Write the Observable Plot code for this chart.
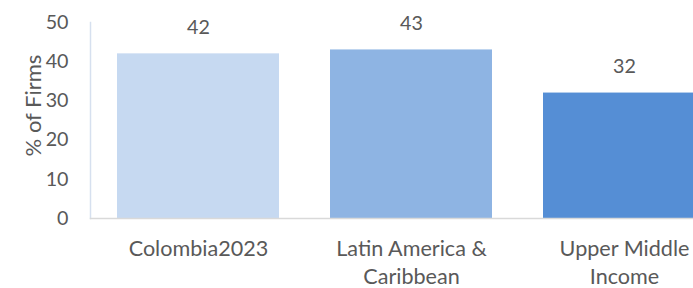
<!DOCTYPE html>
<html><head><meta charset="utf-8">
<script src="https://cdn.jsdelivr.net/npm/d3@7"></script>
<script src="https://cdn.jsdelivr.net/npm/@observablehq/plot@0.6"></script>
<style>
html,body{margin:0;padding:0;background:#fff;overflow:hidden;width:693px;height:288px;}
#chart{width:693px;height:288px;overflow:hidden;}
#chart svg{max-width:none !important;}
</style></head><body><div id="chart"></div>
<script>
const categories = ["Colombia2023", "Latin America & Caribbean", "Upper Middle Income"];
const categoryLabels = ["Colombia2023", "Latin America &\nCaribbean", "Upper Middle\nIncome"];
const values = [42, 43, 32];
const colors = ["#C6D9F1", "#8EB4E3", "#558ED5"];
const yTicks = [0, 10, 20, 30, 40, 50];
const yTitle = "% of Firms";

const data = categories.map((c, i) => ({category: c, value: values[i], label: categoryLabels[i]}));
const font = "Lato, 'Open Sans', sans-serif";
const ink = "#595959";

const chart = Plot.plot({
  width: 732, height: 288,
  marginLeft: 90, marginRight: 0, marginTop: 22, marginBottom: 70,
  style: {fontFamily: font, color: ink, background: "white", maxWidth: "none"},
  x: {domain: categories, paddingInner: 0.24, paddingOuter: 0.125, axis: null},
  y: {domain: [0, 50], axis: null},
  color: {domain: categories, range: colors},
  marks: [
    Plot.barY(data, {x: "category", y: "value", fill: "category"}),
    Plot.frame({anchor: "left", stroke: "#d6e0ef", strokeWidth: 1.5}),
    Plot.frame({anchor: "bottom", stroke: "#d9d9d9", strokeWidth: 1.5}),
    Plot.axisY({ticks: yTicks, tickSize: 0, tickPadding: 22, fontSize: 19.7, fill: ink, label: null}),
    Plot.text([yTitle], {frameAnchor: "left", textAnchor: "middle", lineAnchor: "middle", rotate: -90, dx: -57, dy: -15, fontSize: 22, fill: ink, text: d => d}),
    Plot.text(data, {x: "category", y: "value", text: d => String(d.value), dy: -26, fontSize: 19.7, fill: ink}),
    Plot.text(data, {x: "category", frameAnchor: "bottom", text: "label", lineAnchor: "top", dy: 17, lineHeight: 1.32, fontSize: 21.6, fill: ink})
  ]
});
document.getElementById("chart").appendChild(chart);
</script>
</body></html>
